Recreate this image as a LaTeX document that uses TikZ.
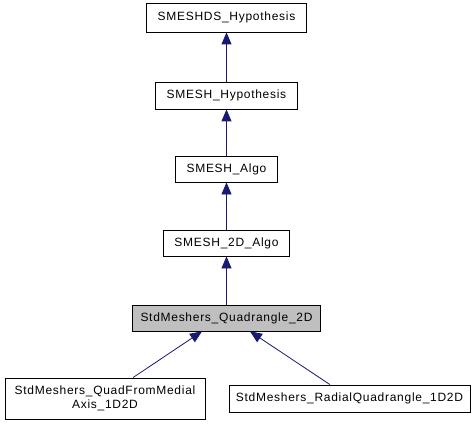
\documentclass[tikz,border=0pt]{standalone}
\usepackage{fontspec}
\setmainfont{Liberation Sans}[LetterSpace=6]
\usetikzlibrary{arrows.meta}
\definecolor{edgeblue}{RGB}{25,25,112}
\definecolor{hlgray}{RGB}{191,191,191}
\tikzset{
  cls/.style={draw=black, line width=0.8pt, fill=white, inner sep=0pt, align=center,
    font=\fontsize{12}{14}\selectfont},
  inh/.style={draw=edgeblue, line width=0.8pt, -{Triangle[length=12pt,width=10pt]}},
}
\begin{document}
\begin{tikzpicture}[x=1pt,y=-1pt]
\useasboundingbox (0,0) rectangle (474,425);
\node[cls, minimum width=160pt, minimum height=29pt] (b1) at (226.5,17.5) {SMESHDS\_Hypothesis};
\node[cls, minimum width=142pt, minimum height=27pt] (b2) at (226.5,95.5) {SMESH\_Hypothesis};
\node[cls, minimum width=102pt, minimum height=26pt] (b3) at (226.5,169) {SMESH\_Algo};
\node[cls, minimum width=126pt, minimum height=26pt] (b4) at (226.5,243) {SMESH\_2D\_Algo};
\node[cls, fill=hlgray, minimum width=188pt, minimum height=26pt] (b5) at (226.5,318) {StdMeshers\_Quadrangle\_2D};
\node[cls, minimum width=200pt, minimum height=41pt] (b6) at (105,398.5) {StdMeshers\_QuadFromMedial\\Axis\_1D2D};
\node[cls, minimum width=241pt, minimum height=27pt] (b7) at (349.5,398.5) {StdMeshers\_RadialQuadrangle\_1D2D};
\draw[inh] (b2) -- (b1);
\draw[inh] (b3) -- (b2);
\draw[inh] (b4) -- (b3);
\draw[inh] (b5) -- (b4);
\draw[inh] ([xshift=28pt]b6.north) -- ([xshift=-24.5pt]b5.south);
\draw[inh] ([xshift=-19.5pt]b7.north) -- ([xshift=23.5pt]b5.south);
\end{tikzpicture}
\end{document}
